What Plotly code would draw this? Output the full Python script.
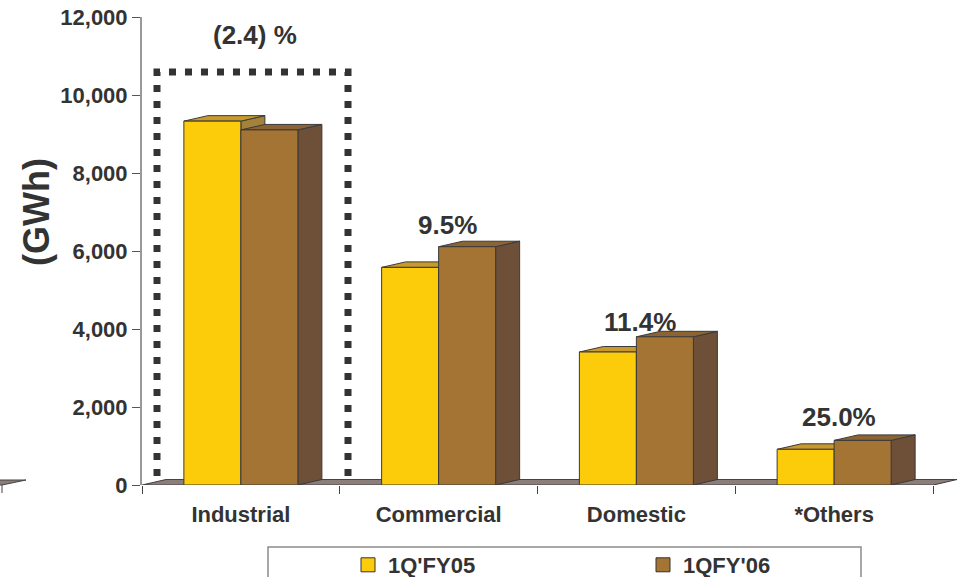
import plotly.graph_objects as go

# Electricity sales by customer segment (GWh)
categories = ["Industrial", "Commercial", "Domestic", "*Others"]
series_names = ["1Q'FY05", "1QFY'06"]
sales_fy05 = [9330, 5580, 3410, 915]
sales_fy06 = [9105, 6110, 3800, 1144]
growth_labels = ["(2.4) %", "9.5%", "11.4%", "25.0%"]
y_tick_values = [0, 2000, 4000, 6000, 8000, 10000, 12000]
y_tick_labels = ["0", "2,000", "4,000", "6,000", "8,000", "10,000", "12,000"]

# ---- canvas / plot-area geometry ----
W, H = 963, 577
ML, MR, MT, MB = 142, 0, 17, 92
PW, PH = W - ML - MR, H - MT - MB
CAT_PX = 197.75                      # pixels per category slot
Y_MAX = 12000
X_RANGE = [-0.5, -0.5 + PW / CAT_PX]
UX = 1.0 / CAT_PX                    # data units per pixel (x)
UY = Y_MAX / PH                      # data units per pixel (y)

# pseudo-3D depth of the columns and the floor
DX = 24 * UX
DY = 5.5 * UY
BAR_W = 57 * UX

INK = "#333333"
FONT = "Liberation Sans, Arial, Helvetica, sans-serif"

face_colors = {
    "front": ["#FCCB0A", "#A47434"],
    "top":   ["#C79A2B", "#8C6434"],
    "side":  ["#A5823C", "#6E4F38"],
}


def faces(values, offset):
    """Polygon outlines (None separated) for front, top and side faces."""
    out = {"front": ([], []), "top": ([], []), "side": ([], [])}
    for i, v in enumerate(values):
        x0 = i + offset
        x1 = x0 + BAR_W
        fx, fy = out["front"]
        fx += [x0, x1, x1, x0, x0, None]
        fy += [0, 0, v, v, 0, None]
        tx, ty = out["top"]
        tx += [x0, x1, x1 + DX, x0 + DX, x0, None]
        ty += [v, v, v + DY, v + DY, v, None]
        sx, sy = out["side"]
        sx += [x1, x1 + DX, x1 + DX, x1, x1, None]
        sy += [0, DY, v + DY, v, 0, None]
    return out


fig = go.Figure()

# floor of the chart
fx0, fx1 = -0.5, len(categories) - 0.5
fig.add_trace(go.Scatter(
    x=[fx0, fx1, fx1 + DX, fx0 + DX, fx0],
    y=[0, 0, DY, DY, 0],
    mode="lines", fill="toself", fillcolor="#8A7D7A",
    line=dict(color="#444444", width=1.2),
    hoverinfo="skip", showlegend=False,
))

# columns: each series drawn side -> top -> front so nearer faces overlap
for s, (vals, off) in enumerate([(sales_fy05, -BAR_W), (sales_fy06, 0.0)]):
    polys = faces(vals, off)
    for face in ["side", "top", "front"]:
        px_, py_ = polys[face]
        fig.add_trace(go.Scatter(
            x=px_, y=py_, mode="lines", fill="toself",
            fillcolor=face_colors[face][s],
            line=dict(color="#3A3A3A", width=1),
            hoverinfo="skip", showlegend=False,
        ))

# legend entries
for s, name in enumerate(series_names):
    fig.add_trace(go.Scatter(
        x=[None], y=[None], mode="markers", name=name,
        marker=dict(symbol="square", size=14, color=face_colors["front"][s],
                    line=dict(color="#333333", width=1)),
    ))

# growth labels above each group
label_dx = [0.07, 0.045, 0.02, 0.025]
label_dy = [None, 22, 15, 23]
for i, txt in enumerate(growth_labels):
    if i == 0:
        y, ys = 11540, 0
    else:
        y, ys = sales_fy06[i], label_dy[i]
    fig.add_annotation(
        x=i + label_dx[i], y=y, yshift=ys, text=txt, showarrow=False,
        xanchor="center", yanchor="middle",
        font=dict(family=FONT, size=26, color=INK, weight="bold"),
    )

# dotted highlight frame around the Industrial group
bx0, bx1 = -0.5 + 15 * UX, -0.5 + 206 * UX
by0, by1 = 9 * UY, (485 - 72) * UY
fig.add_shape(
    type="path",
    path=f"M {bx0},{by0} L {bx0},{by1} L {bx1},{by1} L {bx1},{by0}",
    line=dict(color="#333333", width=7, dash="7px,9px"),
    layer="below",
)

# remnant floor edge at the far left margin
lx = lambda px: (px - ML) / PW
ly = lambda py: (MT + PH - py) / PH
fig.add_shape(
    type="path", xref="paper", yref="paper",
    path=(f"M {lx(-10)},{ly(485)} L {lx(2)},{ly(485)} L {lx(26)},{ly(480)} "
          f"L {lx(-10)},{ly(480)} Z"),
    fillcolor="#8A7D7A", line=dict(color="#444444", width=1),
)
fig.add_shape(
    type="line", xref="paper", yref="paper",
    x0=lx(2), x1=lx(2), y0=ly(485), y1=ly(493),
    line=dict(color="#444444", width=1),
)

# legend frame
fig.add_shape(
    type="rect", xref="paper", yref="paper",
    x0=lx(268), x1=lx(861), y0=ly(547), y1=ly(600),
    line=dict(color="#8C8C8C", width=1.5), fillcolor="rgba(0,0,0,0)",
)

# y-axis title
fig.add_annotation(
    x=lx(37), y=ly(212), xref="paper", yref="paper", text="(GWh)",
    xanchor="center", yanchor="middle",
    textangle=-90, showarrow=False,
    font=dict(family=FONT, size=36, color=INK, weight="bold"),
)

fig.update_layout(
    width=W, height=H,
    margin=dict(l=ML, r=MR, t=MT, b=MB, pad=0, autoexpand=False),
    paper_bgcolor="white", plot_bgcolor="white",
    showlegend=True,
    legend=dict(
        orientation="h", x=lx(348), xanchor="left", y=ly(544), yanchor="top",
        bgcolor="rgba(0,0,0,0)", borderwidth=0,
        entrywidth=250, entrywidthmode="pixels",
        font=dict(family=FONT, size=22, color=INK, weight="bold"),
    ),
    xaxis=dict(
        range=X_RANGE, showgrid=False, zeroline=False, showline=False,
        tickmode="array", tickvals=list(range(len(categories))),
        ticktext=categories, ticks="outside", ticklen=10,
        tickcolor="rgba(0,0,0,0)",
        tickfont=dict(family=FONT, size=22, color=INK, weight="bold"),
        minor=dict(tickmode="linear", tick0=-0.5, dtick=1, ticks="outside",
                   ticklen=8, tickwidth=1, tickcolor="#444444", showgrid=False),
        fixedrange=True,
    ),
    yaxis=dict(
        range=[0, Y_MAX], showgrid=False, zeroline=False,
        showline=True, linecolor="#999999", linewidth=2,
        tickmode="array", tickvals=y_tick_values, ticktext=y_tick_labels,
        ticks="outside", ticklen=8, tickwidth=1, tickcolor="#555555",
        tickfont=dict(family=FONT, size=22, color=INK, weight="bold"),
        fixedrange=True,
    ),
)

fig.write_html("out.html")
